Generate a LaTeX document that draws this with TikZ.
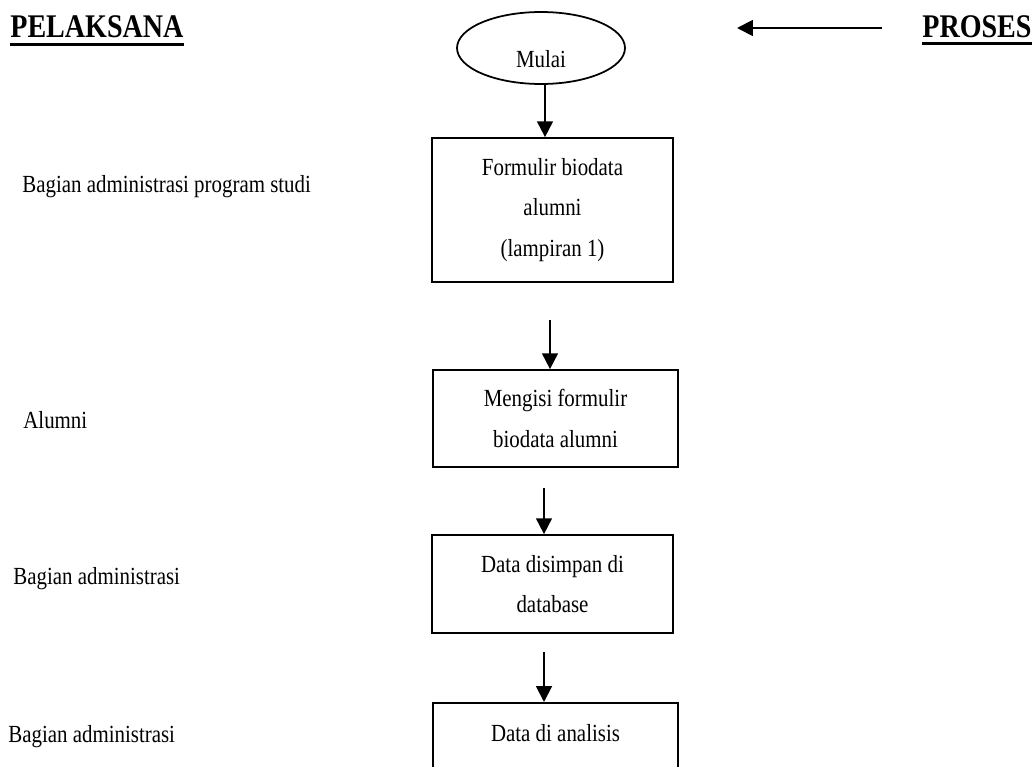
\documentclass[tikz,border=0pt]{standalone}
\usepackage{fontspec}
\setmainfont{Liberation Serif}[FakeStretch=0.85]
\usetikzlibrary{shapes.geometric,arrows.meta}

\begin{document}
\begin{tikzpicture}[x=0.02cm, y=-0.02cm, proses/.style = {shape=rectangle, draw, line width=1pt, align=center, inner sep=0pt, font=\fontsize{14}{23}\selectfont, minimum width=4.82cm, minimum height=1.96cm}, mulai/.style = {shape=ellipse, draw, line width=1pt, inner sep=0pt, minimum width=3.36cm, minimum height=1.44cm, font=\fontsize{14}{16}\selectfont}, pelaku/.style = {anchor=base west, inner sep=0pt, font=\fontsize{14}{16}\selectfont}, judul/.style = {anchor=base west, inner sep=0pt, font=\fontsize{18.8}{20}\selectfont\bfseries}, garis/.style = {line width=1.7pt}, panah/.style = {-{Triangle[length=9pt,width=9pt]}, line width=1.1pt}]
	\useasboundingbox (0,0) rectangle (1034,767);
	\clip (0,0) rectangle (1034,767);
	% judul kolom
	\node[judul] (pelaksana) at (10,38) {PELAKSANA};
	\node[judul] (prosesjudul) at (922,38) {PROSES};
	\draw[garis] ([yshift=-3.7pt]pelaksana.base west) -- ([yshift=-3.7pt]pelaksana.base east);
	\draw[garis] ([yshift=-3.4pt]prosesjudul.base west) -- ([yshift=-3.4pt]prosesjudul.base east);
	\coordinate (ujung) at (882,28);
	\coordinate (kepala) at (737,28);
	\draw[panah] (ujung) -- (kepala);
	% alur proses
	\node[mulai, text height=22pt, text depth=0pt] (start) at (541,48) {Mulai};
	\node[proses, minimum height=2.88cm] (formulir) at (552.5,210) {Formulir biodata\\alumni\\(lampiran 1)};
	\node[proses, minimum width=4.9cm, minimum height=1.94cm] (isi) at (555.5,418.5) {Mengisi formulir\\biodata alumni};
	\node[proses] (simpan) at (552.5,584) {Data disimpan di\\database};
	\node[proses, minimum width=4.9cm, anchor=north, text height=0.4cm, text depth=0.8cm] (analisis) at (555.5,702) {Data di analisis};
	\draw[panah] ([xshift=0.08cm]start.south) -- ([xshift=-0.15cm]formulir.north);
	\coordinate (a2) at (550,320);
	\coordinate (a3) at (544,488);
	\coordinate (a4) at (544,652);
	\draw[panah] (a2) -- (a2 |- isi.north);
	\draw[panah] (a3) -- (a3 |- simpan.north);
	\draw[panah] (a4) -- (a4 |- analisis.north);
	% pelaksana
	\node[pelaku] (prodi) at (22,192) {Bagian administrasi program studi};
	\node[pelaku] (alumni) at (23,428) {Alumni};
	\node[pelaku] (admin1) at (13,584) {Bagian administrasi};
	\node[pelaku] (admin2) at (8,742) {Bagian administrasi};
\end{tikzpicture}
\end{document}
